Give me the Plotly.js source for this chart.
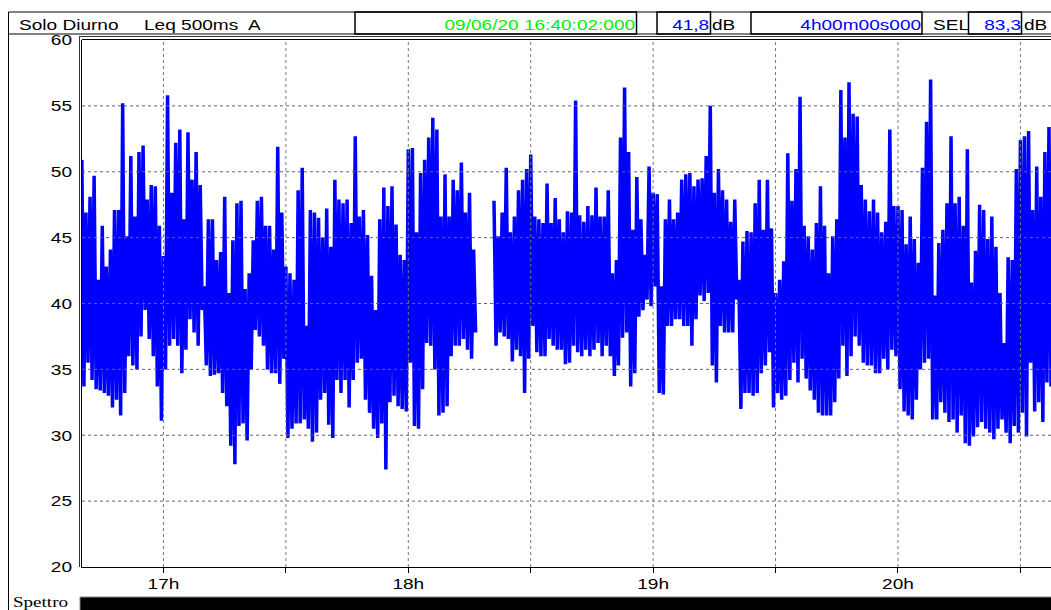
<!DOCTYPE html>
<html><head><meta charset="utf-8">
<script src="https://cdn.plot.ly/plotly-3.0.1.min.js"></script>
<style>html,body{margin:0;padding:0;background:#fff;overflow:hidden}#chart{width:1051px;height:610px}</style>
</head><body><div id="chart"></div>
<script>
// Leq 500ms A — one column per minute from 16:40 (max / min of the trace within that minute, dB)
const startHour = 16 + 40/60;
const levelMax = [
50.9,46.9,48.1,49.7,41.8,45.9,42.8,44.1,47.1,47.1,
55.2,45.1,51.2,46.6,51.5,52.0,47.9,49.0,48.9,45.9,
43.6,55.8,48.4,52.2,53.2,46.4,53.0,49.4,51.5,49.0,
41.3,46.4,46.4,43.3,43.9,48.1,40.8,44.8,47.6,47.8,
41.1,42.3,44.8,47.8,48.1,45.9,45.9,44.1,51.9,46.9,
42.8,42.3,41.8,48.6,50.3,38.3,47.1,46.9,46.5,45.0,
47.2,44.3,49.4,47.9,47.6,47.9,46.1,52.7,46.6,47.1,
45.2,42.1,39.5,46.4,48.8,47.4,48.9,46.0,43.7,43.3,
51.7,51.8,45.4,49.9,50.9,52.6,54.1,53.2,46.6,49.8,
46.6,49.4,48.6,50.7,46.9,48.4,44.1,null,null,null,
null,47.8,45.1,46.9,50.3,45.4,46.6,48.6,49.4,50.2,
51.3,46.6,46.4,46.1,49.1,46.1,48.0,46.4,45.4,47.0,
46.9,55.4,46.7,46.2,47.4,46.7,48.8,46.6,46.6,48.6,
42.3,43.3,52.6,56.4,51.5,45.6,49.6,46.4,43.7,50.4,
48.4,48.3,41.3,46.4,47.9,46.4,46.9,49.4,49.8,49.9,
48.9,49.4,49.5,51.2,55.0,48.4,50.2,48.6,47.9,46.2,
47.9,41.8,44.7,45.5,45.4,47.6,49.4,45.6,49.4,45.7,
40.8,41.8,43.2,51.4,47.8,50.2,55.7,45.9,45.1,44.1,
46.1,48.9,45.9,42.3,45.1,46.4,56.2,52.6,56.8,54.4,
54.2,49.0,47.9,47.0,47.9,46.9,45.4,46.2,53.2,47.4,
47.4,47.1,44.5,46.6,44.9,43.1,50.3,53.8,57.0,40.6,
44.6,45.6,47.6,52.7,47.6,48.1,45.9,51.7,41.6,44.0,
47.5,47.1,44.9,46.6,44.3,40.8,37.0,43.5,43.3,50.2,
52.4,52.7,53.1,47.1,50.4,48.1,51.5,53.4,47.0
];
const levelMin = [
33.7,35.5,34.2,33.5,33.4,33.2,33.0,32.1,32.7,31.5,
33.2,36.0,35.3,35.0,37.5,39.5,37.3,36.0,33.7,31.1,
35.0,36.8,37.3,36.8,34.7,36.5,38.8,37.8,36.8,39.5,
35.3,34.5,34.6,34.7,33.2,32.2,29.2,27.8,30.7,30.9,
29.6,35.0,38.0,37.5,36.8,35.0,34.7,34.7,33.9,35.8,
29.8,30.5,30.9,30.9,31.2,30.5,29.5,30.2,32.7,33.2,
30.8,29.8,34.2,33.2,34.2,32.1,34.2,35.5,35.8,32.7,
31.7,30.5,29.8,30.9,27.4,32.5,33.0,32.2,32.0,31.8,
35.5,30.7,30.5,33.5,37.0,36.8,35.0,31.5,31.7,32.2,
36.0,36.8,36.8,37.3,36.5,35.8,37.8,null,null,null,
null,36.8,37.8,37.5,37.3,35.6,36.5,36.0,33.2,35.8,
38.3,36.3,36.0,36.0,37.3,36.8,36.5,36.5,35.4,35.5,
36.8,36.3,36.0,36.5,36.0,36.5,37.0,36.0,36.8,36.0,
34.5,35.3,37.4,37.8,33.7,34.7,39.0,39.5,40.3,39.8,
41.3,33.2,33.1,38.3,38.3,38.8,38.8,38.3,38.3,36.8,
38.8,40.6,40.2,40.8,35.3,34.0,38.3,37.8,37.8,37.8,
40.3,32.0,33.2,33.2,33.0,33.2,34.7,35.3,36.3,32.1,
33.2,32.7,33.0,34.2,35.5,34.0,35.8,34.3,33.4,32.7,
31.7,31.5,31.5,31.5,32.5,34.3,36.8,34.5,36.0,37.5,
36.8,35.5,35.3,35.3,34.7,34.7,35.8,35.0,36.5,36.0,
33.5,31.8,31.5,31.2,32.7,35.0,35.5,35.8,31.2,31.2,
32.5,31.7,31.0,31.2,30.2,31.5,29.4,29.2,29.9,30.6,
31.0,30.5,30.2,29.7,30.5,31.2,30.2,29.4,30.7,30.2,
31.7,29.9,35.5,31.8,32.5,31.0,34.0,33.7,34.0
];
const tickHours = [17, 17.5, 18, 18.5, 19, 19.5, 20, 20.5];
const tickLabels = ['17h', '', '18h', '', '19h', '', '20h', ''];
const yTicks = [20, 25, 30, 35, 40, 45, 50, 55, 60];
const yGrid = [25, 30, 35, 40, 45, 50, 55];
const headerTexts = {
  mode1: 'Solo Diurno', mode2: 'Leq 500ms', weight: 'A',
  start: '09/06/20 16:40:02:000', leq: '41,8', unit: 'dB',
  duration: '4h00m00s000', selLabel: 'SEL', sel: '83,3', footer: 'Spettro'
};

// pixel helpers (plot area: x 82..1051, y 40..567)
const L = 82, W = 969, T = 40, H = 527;
const X = px => (px - L) / W;
const Y = py => (T + H - py) / H;
const STRETCH = 1.27; // the reference text is drawn horizontally widened

// trace: within each minute the level swings from its max to its min
const xs = [], ys = [];
for (let i = 0; i < levelMax.length; i++) {
  const t = startHour + i / 60;
  xs.push(t, t + 0.5 / 60);
  ys.push(levelMax[i], levelMin[i]);
}
const traces = [{
  x: xs, y: ys, type: 'scatter', mode: 'lines', connectgaps: false,
  line: {color: '#0000ff', width: 3.5}, hoverinfo: 'skip', showlegend: false
}];

const font = {family: 'Liberation Sans, Arial, sans-serif', size: 15, color: '#000'};
const shapes = [];
tickHours.forEach(h => shapes.push({type: 'line', xref: 'x', yref: 'paper', x0: h, x1: h, y0: 0, y1: 1,
  line: {color: '#777', width: 1, dash: 'dot'}, layer: 'above'}));
yGrid.forEach(v => shapes.push({type: 'line', xref: 'paper', yref: 'y', x0: 0, x1: 1, y0: v, y1: v,
  line: {color: '#666', width: 1, dash: 'dot'}, layer: 'above'}));
const box = (x0, x1, y0, y1, w) => shapes.push({type: 'rect', xref: 'paper', yref: 'paper',
  x0: X(x0), x1: X(x1), y0: Y(y1), y1: Y(y0), line: {color: '#000', width: w}, layer: 'above'});
const ln = (x0, y0, x1, y1, c, w) => shapes.push({type: 'line', xref: 'paper', yref: 'paper',
  x0: X(x0), x1: X(x1), y0: Y(y0), y1: Y(y1), line: {color: c || '#000', width: w || 1}, layer: 'above'});
box(8.5, 1060, 12, 34, 1);
box(355, 636.5, 12, 34, 1.5);
box(657, 710.5, 12, 34, 1.5);
box(751, 922, 12, 34, 1.5);
box(968.5, 1021.5, 12, 34, 1.5);
ln(79, 36.5, 1060, 36.5, '#333', 1);
ln(82, 39.5, 1060, 39.5, '#000', 1);
ln(79.5, 36.5, 79.5, 567, '#333', 1);
ln(8.5, 12, 8.5, 612, '#000', 1);
shapes.push({type: 'rect', xref: 'paper', yref: 'paper', x0: X(80), x1: X(1060), y0: Y(612), y1: Y(597),
  fillcolor: '#000', line: {color: '#888', width: 1}, layer: 'above'});

const ann = (text, px, py, anchor, color, f) => ({text, xref: 'paper', yref: 'paper', x: X(px), y: Y(py),
  xanchor: anchor, yanchor: 'middle', showarrow: false, borderpad: 0,
  font: Object.assign({}, f || font, {color: color || '#000'})});
const annotations = [
  ann(headerTexts.mode1, 18, 24.5, 'left'),
  ann(headerTexts.mode2, 143, 24.5, 'left'),
  ann(headerTexts.weight, 247, 24.5, 'left'),
  ann(headerTexts.start, 636, 24.5, 'right', '#00f000'),
  ann(headerTexts.leq, 710, 24.5, 'right', '#0000ff'),
  ann(headerTexts.unit, 711, 24.5, 'left'),
  ann(headerTexts.duration, 921.5, 24.5, 'right', '#0000ff'),
  ann(headerTexts.selLabel, 931.5, 24.5, 'left'),
  ann(headerTexts.sel, 1021.5, 24.5, 'right', '#0000ff'),
  ann(headerTexts.unit, 1022.5, 24.5, 'left'),
  ann(headerTexts.footer, 12, 601.5, 'left', '#000', {family: 'Liberation Serif, Times New Roman, serif', size: 15})
];

const layout = {
  width: 1051, height: 610,
  margin: {l: L, r: 0, t: T, b: 610 - T - H, pad: 0},
  paper_bgcolor: '#fff', plot_bgcolor: '#fff',
  showlegend: false,
  xaxis: {range: [startHour + 2/3600, 20.625], tickvals: tickHours, ticktext: tickLabels,
    ticks: 'outside', ticklen: 5, tickwidth: 1, tickcolor: '#000', showgrid: false, zeroline: false,
    showline: true, linecolor: '#000', linewidth: 1, tickfont: font, ticklabelstandoff: -2, fixedrange: true},
  yaxis: {range: [20, 60], tickvals: yTicks, ticks: '', showgrid: false, zeroline: false,
    showline: true, linecolor: '#000', linewidth: 1, tickfont: font, ticklabelstandoff: 6, fixedrange: true},
  shapes, annotations
};

function widen(t, dir) {
  if (!t) return;
  const w = t.getComputedTextLength();
  if (!w) return;
  t.setAttribute('textLength', (w * STRETCH).toFixed(2));
  t.setAttribute('lengthAdjust', 'spacingAndGlyphs');
  if (dir) {
    const x = parseFloat(t.getAttribute('x') || '0');
    t.setAttribute('x', (x + dir * w * (STRETCH - 1) / 2).toFixed(2));
  }
}
const gd = document.getElementById('chart');
Plotly.newPlot(gd, traces, layout, {staticPlot: true, displayModeBar: false}).then(() => {
  gd.querySelectorAll('.xtick text, .ytick text').forEach(t => widen(t, 0));
  gd.querySelectorAll('g.annotation').forEach(g => {
    const i = +g.getAttribute('data-index');
    const a = annotations[i];
    widen(g.querySelector('text.annotation-text'), a.xanchor === 'left' ? 1 : a.xanchor === 'right' ? -1 : 0);
  });
});
</script></body></html>
